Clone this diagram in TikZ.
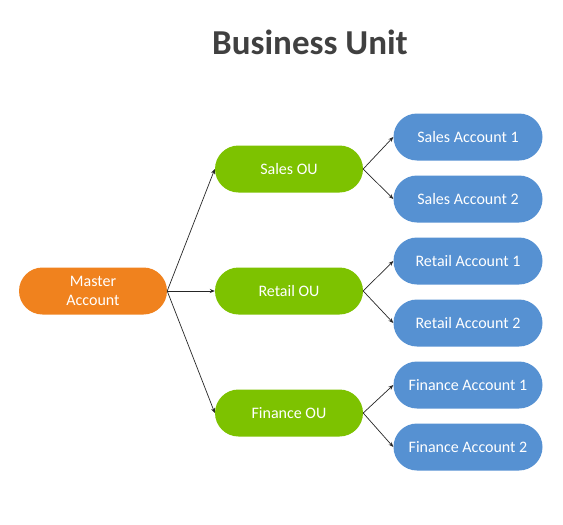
\documentclass[tikz,border=0pt]{standalone}
\usepackage{fontspec}
\setmainfont{Carlito}
\usetikzlibrary{arrows.meta}
\definecolor{morange}{HTML}{F0821E}
\definecolor{mgreen}{HTML}{7DC200}
\definecolor{mblue}{HTML}{5691D2}
\definecolor{mtitle}{HTML}{404040}
\tikzset{
  box/.style={rounded rectangle, minimum width=148pt, minimum height=47pt, text=white, font=\fontsize{16}{19}\selectfont, align=center, inner sep=0pt},
  rounded rectangle/.style={rectangle, rounded corners=23.5pt},
  master/.style={box, fill=morange},
  ou/.style={box, fill=mgreen},
  acct/.style={box, fill=mblue, minimum width=149pt},
  link/.style={-{Stealth[length=5pt,width=4pt]}, line width=0.7pt, black!85}
}
\begin{document}
\begin{tikzpicture}[x=1pt,y=-1pt]
\useasboundingbox (0,0) rectangle (563,525);
\node[font=\bfseries\fontsize{35}{40}\selectfont, text=mtitle] (title) at (310,42) {Business Unit};
\node[master] (m) at (93,291) {Master\\Account};
\node[ou] (s) at (289,169) {Sales OU};
\node[ou] (r) at (289,291) {Retail OU};
\node[ou] (f) at (289,413) {Finance OU};
\node[acct] (s1) at (468,137) {Sales Account 1};
\node[acct] (s2) at (468,199) {Sales Account 2};
\node[acct] (r1) at (468,261) {Retail Account 1};
\node[acct] (r2) at (468,323) {Retail Account 2};
\node[acct] (f1) at (468,385) {Finance Account 1};
\node[acct] (f2) at (468,447) {Finance Account 2};
\foreach \t in {s,r,f} \draw[link] (m.east) -- (\t.west);
\foreach \a/\b in {s/s1,s/s2,r/r1,r/r2,f/f1,f/f2} \draw[link] (\a.east) -- (\b.west);
\end{tikzpicture}
\end{document}
